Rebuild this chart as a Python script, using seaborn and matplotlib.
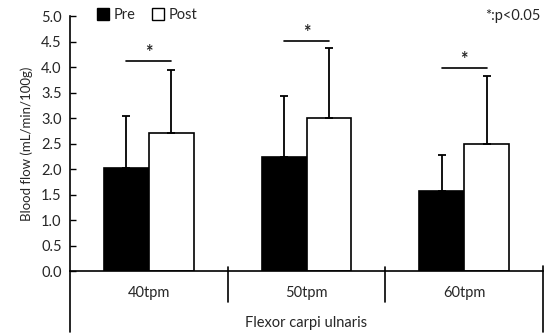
import matplotlib
matplotlib.use("Agg")
import matplotlib.pyplot as plt
import seaborn as sns
import pandas as pd
from matplotlib.lines import Line2D

categories = ["40tpm", "50tpm", "60tpm"]
groups = ["Pre", "Post"]
pre_mean = [2.03, 2.24, 1.56]
pre_sd = [1.01, 1.20, 0.71]
post_mean = [2.70, 3.00, 2.50]
post_sd = [1.25, 1.38, 1.32]
sig_y = [4.12, 4.51, 3.98]
yticks = [0.0, 0.5, 1.0, 1.5, 2.0, 2.5, 3.0, 3.5, 4.0, 4.5, 5.0]

sns.set_theme(style="white")
plt.rcParams['font.family'] = ['Lato', 'DejaVu Sans']

df = pd.DataFrame({
    "cat": categories * 2,
    "group": ["Pre"] * 3 + ["Post"] * 3,
    "val": pre_mean + post_mean,
    "sd": pre_sd + post_sd,
})

fig = plt.figure(figsize=(5.52, 3.35), dpi=100)
ax = fig.add_axes([0.1268, 0.191, 0.857, 0.761])
sns.barplot(data=df, x="cat", y="val", hue="group", order=categories,
            hue_order=groups, palette={"Pre": "black", "Post": "white"},
            edgecolor="black", linewidth=1.2, width=0.57, errorbar=None,
            ax=ax, legend=False)

# error bars (upper only)
for gi, (means, sds) in enumerate([(pre_mean, pre_sd), (post_mean, post_sd)]):
    cont = ax.containers[gi]
    for i, bar in enumerate(cont):
        xc = bar.get_x() + bar.get_width() / 2
        ax.errorbar(xc, means[i], yerr=[[0], [sds[i]]], fmt="none",
                    ecolor="black", elinewidth=1.3, capsize=3, capthick=1.3, zorder=1)

# significance lines
for i in range(3):
    b0 = ax.containers[0][i]
    b1 = ax.containers[1][i]
    x0 = b0.get_x() + b0.get_width() / 2
    x1 = b1.get_x() + b1.get_width() / 2
    ax.plot([x0, x1], [sig_y[i], sig_y[i]], color="black", lw=1.2)
    ax.text((x0 + x1) / 2, sig_y[i] + 0.0, "*", ha="center", va="bottom",
            fontsize=13, fontweight="bold")

ax.set_ylim(0, 5)
ax.set_xlim(-0.5, 2.5)
ax.set_yticks(yticks)
ax.set_yticklabels([f"{t:.1f}" for t in yticks], fontsize=10.5)
ax.set_xticks([])
ax.set_xlabel("")
ax.set_ylabel("Blood flow (mL/min/100g)", fontsize=9.5, labelpad=6)
ax.tick_params(axis="y", direction="in", length=4, width=1, color="black", left=True, pad=6)
for s in ["top", "right"]:
    ax.spines[s].set_visible(False)
for s in ["left", "bottom"]:
    ax.spines[s].set_color("black")
    ax.spines[s].set_linewidth(1.2)

# category labels and separators beneath the axis
for i, c in enumerate(categories):
    ax.text((i + 0.5) / 3, -0.085, c, transform=ax.transAxes, ha="center",
            va="center", fontsize=10.5)
for xf, y0, y1 in [(1 / 3, 0.015, -0.12), (2 / 3, 0.015, -0.12), (1.0, 0.02, -0.24)]:
    ax.add_line(Line2D([xf, xf], [y0, y1], transform=ax.transAxes, color="black",
                       lw=1.2, clip_on=False))
ax.add_line(Line2D([0, 0], [0, -0.24], transform=ax.transAxes, color="black",
                   lw=1.2, clip_on=False))
ax.text(0.5, -0.205, "Flexor carpi ulnaris", transform=ax.transAxes, ha="center",
        va="center", fontsize=10.5)

# legend
handles = [Line2D([], [], marker="s", ls="none", markersize=9, markerfacecolor="black",
                  markeredgecolor="black"),
           Line2D([], [], marker="s", ls="none", markersize=9, markerfacecolor="white",
                  markeredgecolor="black")]
ax.legend(handles, groups, ncol=2, frameon=False, loc="upper left",
          bbox_to_anchor=(0.045, 1.055), fontsize=10.5, handlelength=0.8,
          handletextpad=0.3, columnspacing=1.2, borderaxespad=0)

ax.text(0.995, 1.0, "*:p<0.05", transform=ax.transAxes, ha="right", va="center",
        fontsize=10.5)

fig.savefig("out.png", dpi=100)
